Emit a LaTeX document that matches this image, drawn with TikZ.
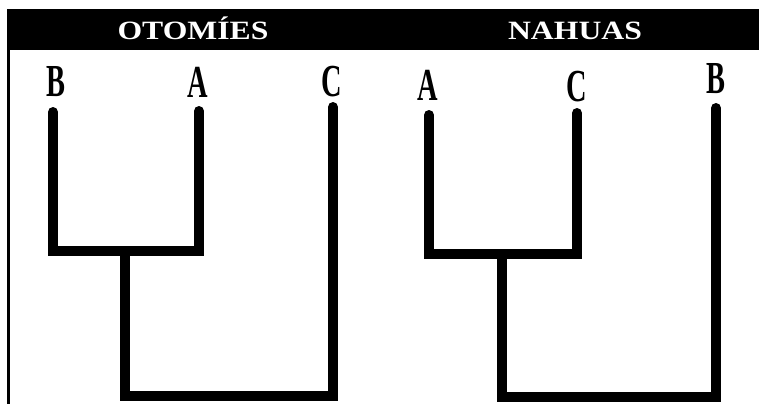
\documentclass[tikz,border=0pt]{standalone}
\usepackage{fontspec}
\setmainfont{Liberation Serif}
\newcommand{\wide}[1]{\scalebox{1.2}[1]{#1}}
\newcommand{\slim}[1]{\scalebox{0.62}[1]{#1}}

\begin{document}
\begin{tikzpicture}[x=1bp,y=-1bp,
        title/.style={text=white,font=\fontsize{26.5}{30}\selectfont\bfseries,anchor=base,inner sep=0pt},
        leaf/.style={font=\fontsize{46}{50}\selectfont\bfseries,anchor=base,inner sep=0pt},
        branch/.style={line width=10bp,line cap=round,line join=miter}]
        \useasboundingbox (0,0) rectangle (759,404);

        \fill (7,9) rectangle (759,50);
        \draw[line width=3bp] (8.5,50) -- (8.5,404);

        \node[title] (oto) at (193,39) {\wide{OTOMÍES}};
        \node[title] (nah) at (575,39) {\wide{NAHUAS}};

        % otomies
        \node[leaf] (oB) at (56,96) {\slim{B}};
        \node[leaf] (oA) at (198,97) {\slim{A}};
        \node[leaf] (oC) at (332,96) {\slim{C}};
        \coordinate (oBt) at (53,112);
        \coordinate (oAt) at (199,111);
        \coordinate (oCt) at (333,107);
        \coordinate (oj1) at (125,251);
        \coordinate (oj2) at (125,396);
        \draw[branch] (oBt) |- (oj1) -| (oAt);
        \draw[branch] (oj1) -- (oj2) -| (oCt);

        % nahuas
        \node[leaf] (nA) at (428,100) {\slim{A}};
        \node[leaf] (nC) at (577,101) {\slim{C}};
        \node[leaf] (nB) at (716,93) {\slim{B}};
        \coordinate (nAt) at (429,115);
        \coordinate (nCt) at (577,113);
        \coordinate (nBt) at (716,108);
        \coordinate (nj1) at (502,254);
        \coordinate (nj2) at (502,397);
        \draw[branch] (nAt) |- (nj1) -| (nCt);
        \draw[branch] (nj1) -- (nj2) -| (nBt);
    \end{tikzpicture}
\end{document}
